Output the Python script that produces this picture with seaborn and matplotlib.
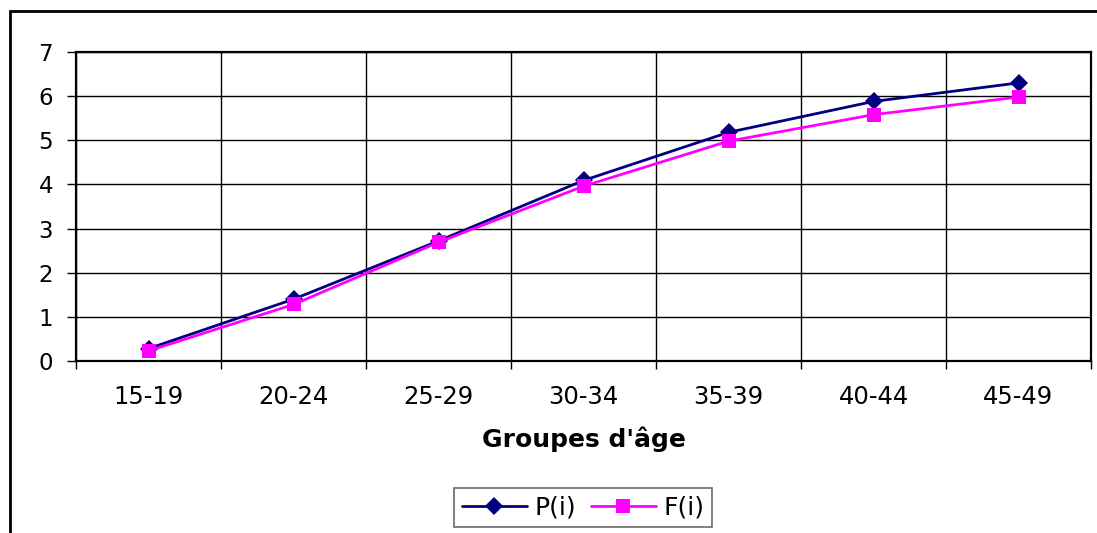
import matplotlib
matplotlib.use("Agg")
import matplotlib.pyplot as plt
import seaborn as sns
import pandas as pd
from matplotlib.patches import Rectangle
from matplotlib.ticker import FixedLocator, NullFormatter

groups = ["15-19", "20-24", "25-29", "30-34", "35-39", "40-44", "45-49"]
p_values = [0.28, 1.40, 2.72, 4.09, 5.18, 5.88, 6.30]
f_values = [0.23, 1.28, 2.69, 3.96, 4.98, 5.58, 5.98]
series_names = ["P(i)", "F(i)"]
y_ticks = [0, 1, 2, 3, 4, 5, 6, 7]
x_title = "Groupes d'âge"

sns.set_theme(style="white")
plt.rcParams["font.family"] = ["DejaVu Sans"]

df = pd.DataFrame({
    "pos": list(range(len(groups))) * 2,
    "value": p_values + f_values,
    "series": [series_names[0]] * len(groups) + [series_names[1]] * len(groups),
})

W, H = 1097, 533
fig = plt.figure(figsize=(W / 100, H / 100), dpi=100)
left, right, top, bottom = 76, 1091, 52, 361
ax = fig.add_axes([left / W, 1 - bottom / H, (right - left) / W, (bottom - top) / H])

palette = {series_names[0]: "#000080", series_names[1]: "#FF00FF"}
markers = {series_names[0]: "D", series_names[1]: "s"}
sns.lineplot(data=df, x="pos", y="value", hue="series", style="series",
             markers=markers, dashes=False, palette=palette, ax=ax,
             linewidth=2, markersize=9.5, markeredgewidth=0, legend=True)

ax.set_xlim(-0.5, len(groups) - 0.5)
ax.set_ylim(0, 7)
ax.set_yticks(y_ticks)
ax.set_yticklabels([str(t) for t in y_ticks])
ax.set_xticks(range(len(groups)))
ax.set_xticklabels(groups)
ax.xaxis.set_minor_locator(FixedLocator([i + 0.5 for i in range(-1, len(groups))]))
ax.xaxis.set_minor_formatter(NullFormatter())
ax.tick_params(axis="x", which="major", length=0, pad=17, labelsize=17.5, colors="black")
ax.tick_params(axis="x", which="minor", length=6, width=1, direction="out", bottom=True, color="black")
ax.tick_params(axis="y", which="major", length=6.5, width=1, direction="out", left=True, pad=10, labelsize=16.5, colors="black")

ax.grid(False)
ax.grid(True, axis="y", which="major", color="black", linewidth=1)
ax.grid(True, axis="x", which="minor", color="black", linewidth=1)
for s in ax.spines.values():
    s.set_visible(True)
    s.set_color("black")
    s.set_linewidth(1.6)

ax.set_ylabel("")
ax.set_xlabel(x_title, fontsize=18, fontweight="bold", labelpad=13, color="black")

handles, labels = ax.get_legend_handles_labels()
leg = ax.legend(handles, labels, loc="upper center", ncol=2,
                bbox_to_anchor=(583 / W, 1 - 488 / H), bbox_transform=fig.transFigure,
                fontsize=18, frameon=True, fancybox=False, edgecolor="#444444",
                labelcolor="black",
                handlelength=2.6, handletextpad=0.3, columnspacing=0.6,
                borderpad=0.3, borderaxespad=0)
leg.get_frame().set_linewidth(1.2)

fig.patches.append(Rectangle((10 / W, -0.1), 1.2, 1 - 11 / H + 0.1,
                             transform=fig.transFigure, fill=False,
                             edgecolor="black", linewidth=2))

fig.savefig("out.png", dpi=100)
